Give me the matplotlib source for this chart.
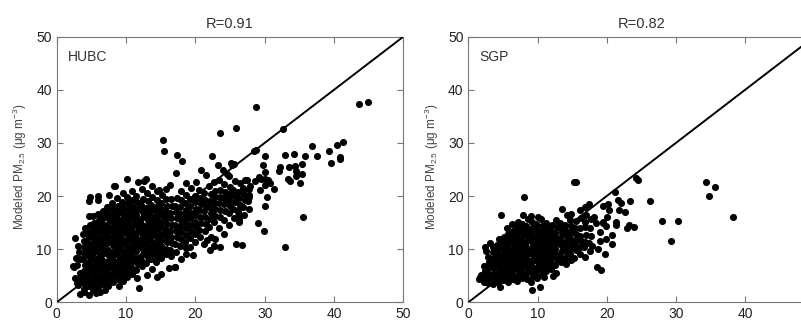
import matplotlib.pyplot as plt

hubc_obs = [
    2.5, 2.7, 2.6, 2.3, 2.8, 2.9,
    3.3, 3.1, 3.2, 3.4, 3.0, 3.3, 3.2, 3.1,
    3.9, 4.0, 3.8, 3.9, 4.1, 3.8, 4.0, 3.9, 4.0, 3.8, 4.1,
    4.6, 4.5, 4.7, 4.6, 4.5, 4.7, 4.6, 4.5, 4.7, 4.6, 4.5, 4.8, 4.7, 4.6,
    5.3, 5.2, 5.4, 5.3, 5.2, 5.4, 5.3, 5.2, 5.4, 5.3, 5.2, 5.4, 5.3, 4.8,
    6.0, 5.9, 6.1, 6.0, 5.9, 6.1, 6.0, 5.9, 6.1, 6.0, 5.9, 6.1, 6.0, 5.9, 5.9,
    6.7, 6.6, 6.8, 6.7, 6.6, 6.8, 6.7, 6.6, 6.8, 6.7, 6.6, 6.8, 6.7,
    7.4, 7.3, 7.5, 7.4, 7.3, 7.5, 7.4, 7.3, 7.5, 7.4, 7.3, 7.5, 7.4, 7.3,
    8.1, 8.0, 8.2, 8.1, 8.0, 8.2, 8.1, 8.0, 8.2, 8.1, 8.0, 8.2, 8.1, 8.0, 8.2, 8.4,
    8.8, 8.7, 8.9, 8.8, 8.7, 8.9, 8.8, 8.7, 8.9, 8.8, 8.7, 8.9, 8.8, 8.7,
    9.5, 9.4, 9.6, 9.5, 9.4, 9.6, 9.5, 9.4, 9.6, 9.5, 9.4, 9.6, 9.5, 9.4, 9.6,
    10.2, 10.1, 10.3, 10.2, 10.1, 10.3, 10.2, 10.1, 10.3, 10.2, 10.1, 10.3, 10.2, 10.1, 10.1,
    10.9, 10.8, 11.0, 10.9, 10.8, 11.0, 10.9, 10.8, 11.0, 10.9, 10.8, 11.0, 10.9, 10.8,
    11.6, 11.5, 11.7, 11.6, 11.5, 11.7, 11.6, 11.5, 11.7, 11.6, 11.5, 11.7, 11.6, 11.5, 11.7,
    11.9, 12.3, 12.2, 12.4, 12.3, 12.2, 12.4, 12.3, 12.2, 12.4, 12.3, 12.2, 12.4, 12.3,
    13.0, 12.9, 13.1, 13.0, 12.9, 13.1, 13.0, 12.9, 13.1, 13.0, 12.9, 13.1, 13.0, 12.9,
    13.7, 13.6, 13.8, 13.7, 13.6, 13.8, 13.7, 13.6, 13.8, 13.7, 13.6, 13.8, 13.7,
    14.4, 14.3, 14.5, 14.4, 14.3, 14.5, 14.4, 14.3, 14.5, 14.4, 14.3, 14.5, 14.4, 14.8,
    15.1, 15.0, 15.2, 15.1, 15.0, 15.2, 15.1, 15.0, 15.2, 15.1, 15.0, 15.2, 15.3, 15.5,
    15.8, 15.7, 15.9, 15.8, 15.7, 15.9, 15.8, 15.7, 15.9, 15.8, 15.7,
    16.5, 16.4, 16.6, 16.5, 16.4, 16.6, 16.5, 16.4, 16.6, 16.5, 16.4,
    17.0, 17.2, 17.1, 17.3, 17.2, 17.1, 17.3, 17.2, 17.1, 17.3, 17.2, 17.3,
    17.9, 17.8, 18.0, 17.9, 17.8, 18.0, 17.9, 17.8, 18.0, 17.9, 18.1,
    18.6, 18.5, 18.7, 18.6, 18.5, 18.7, 18.6, 18.5, 18.7, 18.6, 18.6,
    19.3, 19.2, 19.4, 19.3, 19.2, 19.4, 19.3, 19.2, 19.4,
    20.0, 19.9, 20.1, 20.0, 19.9, 20.1, 20.0, 19.9, 20.1,
    20.7, 20.6, 20.8, 20.7, 20.6, 20.8, 20.7, 20.6, 20.8,
    21.3, 21.7, 21.4, 21.5, 21.4, 21.3, 21.5, 21.4, 21.3, 21.5,
    22.1, 22.2, 22.0, 22.1, 22.2, 22.0, 22.1, 22.2, 22.0, 22.4,
    22.7, 22.8, 22.7, 22.9, 22.8, 22.7, 22.9, 22.8, 22.7,
    23.5, 23.4, 23.6, 23.5, 23.4, 23.6, 23.5, 23.3, 23.4, 23.5,
    24.2, 24.1, 24.3, 24.2, 24.1, 24.3, 24.0, 24.5, 24.2,
    24.9, 24.8, 25.0, 24.9, 24.8, 25.0, 25.1, 25.3, 24.9,
    25.6, 25.5, 25.7, 25.6, 25.5, 25.7, 25.8, 25.8, 25.6,
    26.3, 26.2, 26.4, 26.3, 26.2, 26.4, 26.1, 26.3, 26.1, 26.8,
    27.0, 26.9, 27.1, 27.0, 26.9, 27.1, 26.9, 27.4,
    27.7, 27.6, 27.8, 27.7, 27.9, 27.7,
    28.4, 28.7, 28.7, 30.0, 29.2, 30.1, 30.0, 30.5, 29.3, 30.4, 30.0, 29.0, 29.9, 29.8, 30.8, 31.3,
    30.0, 32.7, 32.9, 34.3, 35.8, 36.9, 37.5, 39.3, 39.5, 40.5, 41.3, 40.8, 40.9, 43.6, 44.9, 33.0,
    32.2, 33.5, 34.4, 35.4, 34.5, 35.4, 34.5, 33.4, 33.7, 35.1, 35.5, 32.0, 28.6, 29.5,
    4.0, 7.6, 12.6, 17.1, 19.6, 16.2, 22.7, 6.3, 7.0, 5.6, 9.0,
    # points packed in between the columns of the dense core
    4.25, 4.25, 4.25, 4.25,
    4.95, 4.95, 4.95, 4.95, 4.95,
    5.65, 5.65, 5.65, 5.65, 5.65,
    6.35, 6.35, 6.35, 6.35, 6.35, 6.35,
    7.05, 7.05, 7.05, 7.05, 7.05, 7.05,
    7.75, 7.75, 7.75, 7.75, 7.75, 7.75,
    8.45, 8.45, 8.45, 8.45, 8.45, 8.45,
    9.15, 9.15, 9.15, 9.15, 9.15, 9.15,
    9.85, 9.85, 9.85, 9.85, 9.85,
    10.55, 10.55, 10.55, 10.55, 10.55, 10.55,
    11.25, 11.25, 11.25, 11.25, 11.25,
    11.95, 11.95, 11.95, 11.95, 11.95,
    12.65, 12.65, 12.65, 12.65,
    13.35, 13.35, 13.35, 13.35,
    14.05, 14.05, 14.05,
]
hubc_mod = [
    6.6, 12.1, 4.5, 6.9, 8.3, 3.6,
    1.5, 3.2, 4.4, 5.6, 7.0, 8.1, 9.4, 10.6,
    2.5, 3.6, 4.8, 5.9, 7.1, 8.2, 9.3, 10.5, 11.6, 12.8, 13.9,
    1.4, 3.0, 4.1, 5.3, 6.4, 7.6, 8.7, 9.9, 11.0, 12.2, 13.3, 14.5, 16.2, 19.1,
    2.3, 3.5, 4.6, 5.8, 6.9, 8.1, 9.2, 10.4, 11.5, 12.7, 13.8, 15.0, 16.3, 19.9,
    2.9, 4.0, 5.2, 6.3, 7.5, 8.6, 9.8, 10.9, 12.1, 13.2, 14.4, 15.5, 16.7, 19.2, 20.1,
    3.4, 4.6, 5.7, 6.9, 8.0, 9.2, 10.3, 11.5, 12.6, 13.8, 14.9, 16.1, 17.2,
    3.0, 4.2, 5.3, 6.5, 7.6, 8.8, 9.9, 11.1, 12.2, 13.4, 14.5, 15.7, 16.8, 18.0,
    3.8, 4.9, 6.1, 7.2, 8.4, 9.5, 10.7, 11.8, 13.0, 14.1, 15.3, 16.4, 17.6, 18.7, 21.9, 21.9,
    4.4, 5.5, 6.7, 7.8, 9.0, 10.1, 11.3, 12.4, 13.6, 14.7, 15.9, 17.0, 18.2, 19.6,
    4.0, 5.1, 6.3, 7.4, 8.6, 9.7, 10.9, 12.0, 13.2, 14.3, 15.5, 16.6, 17.8, 18.9, 20.5,
    4.8, 5.9, 7.1, 8.2, 9.4, 10.5, 11.7, 12.8, 14.0, 15.1, 16.3, 17.4, 18.6, 19.8, 23.2,
    5.4, 6.5, 7.7, 8.8, 10.0, 11.1, 12.3, 13.4, 14.6, 15.7, 16.9, 18.0, 19.2, 21.0,
    4.6, 6.1, 7.3, 8.4, 9.6, 10.7, 11.9, 13.0, 14.2, 15.3, 16.5, 17.6, 18.8, 20.0, 22.6,
    2.6, 6.8, 7.9, 9.1, 10.2, 11.4, 12.5, 13.7, 14.8, 16.0, 17.1, 18.3, 19.5, 21.4,
    5.2, 7.4, 8.6, 9.7, 10.9, 12.0, 13.2, 14.3, 15.5, 16.6, 17.8, 19.0, 20.5, 23.3,
    6.3, 8.1, 9.2, 10.4, 11.5, 12.7, 13.8, 15.0, 16.1, 17.3, 18.4, 19.8, 21.9,
    4.8, 7.6, 8.8, 9.9, 11.1, 12.2, 13.4, 14.5, 15.7, 16.8, 18.0, 19.2, 20.9, 21.1,
    5.4, 8.3, 9.5, 10.6, 11.8, 12.9, 14.1, 15.2, 16.4, 17.5, 18.7, 20.2, 30.6, 28.4,
    9.0, 10.1, 11.3, 12.4, 13.6, 14.7, 15.9, 17.0, 18.2, 19.5, 21.3,
    8.7, 9.8, 11.2, 12.3, 13.5, 14.6, 15.8, 16.9, 18.1, 19.4, 22.1,
    6.6, 9.5, 11.0, 12.2, 13.4, 14.6, 15.8, 17.0, 18.2, 19.6, 24.3, 27.8,
    8.2, 10.6, 12.0, 13.2, 14.4, 15.5, 16.7, 17.9, 19.3, 21.0, 26.6,
    10.3, 11.4, 12.7, 13.9, 15.1, 16.2, 17.4, 18.6, 20.2, 22.4, 9.1,
    10.5, 12.1, 13.4, 14.6, 15.8, 16.9, 18.1, 19.4, 21.5,
    11.4, 12.8, 14.1, 15.2, 16.4, 17.6, 18.8, 20.1, 22.7,
    12.2, 13.6, 15.0, 16.1, 17.3, 18.5, 19.6, 21.2, 25.0,
    11.0, 11.7, 13.4, 14.8, 16.0, 17.1, 18.2, 19.3, 20.6, 23.9,
    9.9, 12.2, 14.2, 15.6, 16.8, 18.0, 19.1, 20.3, 21.8, 27.6,
    10.6, 12.0, 15.1, 16.3, 17.5, 18.7, 19.8, 21.0, 22.6,
    10.4, 14.0, 16.0, 17.4, 18.6, 19.8, 21.2, 25.8, 23.0, 31.9,
    12.8, 15.5, 17.2, 18.5, 19.6, 20.8, 25.0, 24.1, 22.3,
    14.6, 16.8, 18.1, 19.3, 20.4, 21.7, 26.3, 25.8, 23.8,
    15.9, 17.6, 18.9, 20.0, 21.1, 22.9, 32.8, 11.0, 26.0,
    15.2, 17.0, 18.4, 19.6, 20.8, 22.4, 16.1, 15.7, 17.4, 10.7,
    16.4, 18.0, 19.2, 20.3, 21.6, 23.1, 21.1, 23.0,
    17.6, 19.0, 20.2, 21.4, 21.8, 19.9,
    28.5, 28.7, 36.8, 27.6, 23.6, 24.6, 23.3, 23.0, 21.1, 19.9, 22.1, 14.9, 13.5, 25.9, 22.4, 21.4,
    18.1, 32.6, 27.7, 28.0, 27.5, 29.4, 27.5, 28.4, 26.3, 29.7, 30.2, 27.3, 27.0, 37.3, 37.8, 10.4,
    25.4, 25.5, 25.7, 26.1, 24.8, 24.1, 23.8, 23.3, 22.9, 22.4, 16.1, 24.8, 22.9, 23.3,
    1.9, 20.2, 22.9, 6.7, 8.9, 6.4, 10.6, 2.0, 2.4, 1.8, 3.0,
    5.0, 7.0, 9.3, 11.6,
    4.0, 6.2, 8.5, 10.8, 13.1,
    4.9, 7.3, 9.6, 11.9, 14.3,
    4.3, 6.6, 8.9, 11.2, 13.6, 15.9,
    5.0, 7.3, 9.6, 12.0, 14.3, 16.5,
    4.6, 6.9, 9.2, 11.5, 13.9, 16.2,
    5.3, 7.6, 9.9, 12.2, 14.6, 16.9,
    6.0, 8.3, 10.6, 12.9, 15.2, 17.6,
    6.6, 8.9, 11.2, 13.5, 15.9,
    7.1, 9.4, 11.7, 14.1, 16.4, 18.1,
    7.9, 10.2, 12.5, 14.8, 17.2,
    8.6, 10.9, 13.2, 15.5, 17.8,
    9.3, 11.6, 13.9, 16.2,
    10.1, 12.4, 14.7, 17.0,
    10.6, 13.0, 15.3,
]

# SGP panel
sgp_obs = [
    1.5, 1.8, 1.7,
    2.3, 2.2, 2.4, 2.3, 2.4,
    2.9, 3.0, 2.8, 2.9, 3.0, 2.8, 3.1,
    3.6, 3.5, 3.7, 3.6, 3.5, 3.7, 3.6, 3.5,
    4.3, 4.2, 4.4, 4.3, 4.2, 4.4, 4.3, 4.2, 4.4,
    4.6, 5.0, 4.9, 5.1, 5.0, 4.9, 5.1, 5.0, 4.9, 5.1, 4.7,
    5.7, 5.6, 5.8, 5.7, 5.6, 5.8, 5.7, 5.6, 5.8, 5.7, 5.6,
    6.4, 6.3, 6.5, 6.4, 6.3, 6.5, 6.4, 6.3, 6.5, 6.4, 6.3,
    7.1, 7.0, 7.2, 7.1, 7.0, 7.2, 7.1, 7.0, 7.2, 7.1, 7.0, 7.2,
    7.8, 7.7, 7.9, 7.8, 7.7, 7.9, 7.8, 7.7, 7.9, 7.8, 7.7, 7.9, 8.05,
    8.5, 8.4, 8.6, 8.5, 8.4, 8.6, 8.5, 8.4, 8.6, 8.5, 8.4, 8.6,
    9.2, 9.1, 9.3, 9.2, 9.1, 9.3, 9.2, 9.1, 9.3, 9.2, 9.1, 9.3, 9.2, 9.1,
    9.9, 9.8, 10.0, 9.9, 9.8, 10.0, 9.9, 9.8, 10.0, 9.9, 9.8, 10.0,
    10.4, 10.6, 10.5, 10.7, 10.6, 10.5, 10.7, 10.6, 10.5, 10.7, 10.6, 10.5,
    11.3, 11.2, 11.4, 11.3, 11.2, 11.4, 11.3, 11.2, 11.4, 11.3,
    12.0, 11.9, 12.1, 12.0, 11.9, 12.1, 12.0, 11.9, 12.1,
    12.7, 12.6, 12.8, 12.7, 12.6, 12.8, 12.7, 12.6, 12.8, 12.7,
    13.4, 13.3, 13.5, 13.4, 13.3, 13.5, 13.4, 13.3, 13.5,
    14.1, 14.0, 14.2, 14.1, 14.0, 14.2, 14.1, 14.0, 14.2,
    14.8, 14.7, 14.9, 14.8, 14.7, 14.9, 14.8, 14.7, 14.9,
    15.3, 15.5, 15.4, 15.6, 15.5, 15.4, 15.6, 15.3, 15.6,
    16.2, 16.1, 16.3, 16.2, 16.1, 16.3, 16.2, 16.7,
    16.9, 16.8, 17.0, 16.9, 16.8, 17.0, 16.9,
    17.6, 17.5, 17.7, 17.6, 17.8, 17.9, 17.4,
    18.2, 18.5, 18.6, 19.2, 18.8, 19.1, 19.1, 19.5, 19.4, 19.9, 19.9, 19.8, 19.5, 20.0, 20.2, 20.3,
    20.7, 20.8, 21.2, 21.3, 21.4, 21.6, 21.8, 22.1, 22.6, 22.9, 23.2, 23.9, 23.4, 24.2, 24.5, 26.3,
    27.95, 30.3, 29.3, 34.35, 35.6, 34.8, 38.3, 2.6, 11.0, 12.3,
    # points packed in between the columns of the dense core
    3.95, 3.95, 3.95,
    4.65, 4.65, 4.65, 4.65,
    5.35, 5.35, 5.35, 5.35,
    6.05, 6.05, 6.05, 6.05,
    6.75, 6.75, 6.75, 6.75, 6.75,
    7.45, 7.45, 7.45, 7.45, 7.45,
    8.15, 8.15, 8.15, 8.15, 8.15,
    8.85, 8.85, 8.85, 8.85, 8.85,
    9.55, 9.55, 9.55, 9.55, 9.55,
    10.25, 10.25, 10.25, 10.25,
    10.95, 10.95, 10.95, 10.95,
    11.65, 11.65, 11.65,
    12.35, 12.35, 12.35,
]
sgp_mod = [
    4.4, 5.2, 4.8,
    3.9, 4.8, 5.8, 6.9, 10.4,
    3.7, 4.6, 5.6, 6.6, 7.6, 8.6, 11.2,
    3.5, 4.5, 5.4, 6.4, 7.4, 8.4, 9.4, 10.4,
    3.9, 4.9, 5.8, 6.8, 7.8, 8.8, 9.8, 10.8, 12.0,
    2.8, 4.2, 5.2, 6.2, 7.2, 8.2, 9.2, 10.2, 11.2, 12.3, 16.5,
    3.8, 4.7, 5.7, 6.7, 7.7, 8.7, 9.7, 10.7, 11.7, 12.8, 14.0,
    4.4, 5.3, 6.3, 7.3, 8.3, 9.3, 10.3, 11.3, 12.3, 13.4, 14.8,
    4.0, 5.0, 6.0, 7.0, 8.0, 9.0, 10.0, 11.0, 12.0, 13.0, 14.2, 15.2,
    4.6, 5.6, 6.6, 7.6, 8.6, 9.6, 10.6, 11.6, 12.6, 13.6, 14.8, 16.4, 19.8,
    4.3, 5.3, 6.3, 7.3, 8.3, 9.3, 10.3, 11.3, 12.3, 13.3, 14.4, 15.6,
    2.3, 3.8, 5.0, 6.0, 7.0, 8.0, 9.0, 10.0, 11.0, 12.0, 13.0, 14.0, 15.1, 16.2,
    4.6, 5.7, 6.7, 7.7, 8.7, 9.7, 10.7, 11.7, 12.7, 13.7, 14.8, 16.0,
    2.9, 5.2, 6.3, 7.3, 8.3, 9.3, 10.3, 11.3, 12.3, 13.3, 14.4, 15.6,
    5.8, 6.9, 7.9, 8.9, 9.9, 10.9, 11.9, 12.9, 13.9, 15.0,
    6.2, 7.4, 8.5, 9.5, 10.5, 11.5, 12.5, 13.5, 14.6,
    5.6, 7.0, 8.1, 9.1, 10.1, 11.1, 12.1, 13.1, 14.2, 15.4,
    7.5, 8.7, 9.7, 10.7, 11.7, 12.7, 13.8, 14.9, 17.5,
    7.2, 8.4, 9.4, 10.4, 11.4, 12.4, 13.5, 14.6, 16.4,
    8.0, 9.1, 10.1, 11.1, 12.1, 13.2, 14.3, 15.5, 16.7,
    8.3, 9.8, 10.8, 11.8, 12.9, 14.0, 15.3, 22.7, 22.7,
    9.0, 10.4, 11.6, 12.4, 13.9, 15.8, 17.3, 10.4,
    8.6, 11.4, 12.6, 14.2, 15.1, 16.5, 18.0,
    9.6, 11.2, 12.5, 13.9, 15.6, 10.6, 18.5,
    16.0, 14.9, 6.7, 6.0, 10.0, 11.6, 13.3, 14.9, 15.2, 14.3, 11.9, 9.1, 18.1, 16.0, 18.5, 17.4,
    10.9, 12.7, 20.8, 14.5, 15.2, 19.3, 17.3, 18.6, 17.0, 13.9, 14.6, 14.1, 19.1, 23.35, 23.0, 19.0,
    15.25, 15.25, 11.55, 22.65, 21.65, 20.0, 16.1, 9.6, 4.8, 5.0,
    5.0, 7.0, 9.0,
    4.6, 6.6, 8.6, 10.6,
    5.0, 7.0, 9.0, 11.0,
    5.5, 7.5, 9.5, 11.5,
    4.8, 6.8, 8.8, 10.8, 12.8,
    5.6, 7.6, 9.6, 11.6, 13.6,
    5.0, 7.0, 9.0, 11.0, 13.0,
    5.8, 7.8, 9.8, 11.8, 13.8,
    6.4, 8.4, 10.4, 12.4, 14.4,
    6.8, 8.8, 10.8, 12.8,
    7.4, 9.4, 11.4, 13.4,
    8.0, 10.0, 12.0,
    8.8, 10.8, 12.8,
]

titles = ['R=0.91', 'R=0.82']
sites = ['HUBC', 'SGP']
ticks = [0, 10, 20, 30, 40, 50]
ticks_sgp_x = [0, 10, 20, 30, 40]   # 50 falls off the cropped figure

plt.rcParams['font.family'] = ['Liberation Sans', 'DejaVu Sans']

fig = plt.figure(figsize=(8.01, 3.23), dpi=100)
ax1 = fig.add_axes([56.7 / 801, 20.7 / 323, 346.6 / 801, 265.6 / 323])
ax2 = fig.add_axes([468.3 / 801, 20.7 / 323, 346.0 / 801, 265.6 / 323])

data = [(hubc_obs, hubc_mod), (sgp_obs, sgp_mod)]
for i, ax in enumerate([ax1, ax2]):
    xs, ys = data[i]
    ax.plot([0, 50], [0, 50], color='k', lw=1.4, zorder=3)
    ax.scatter(xs, ys, s=26, c='k', linewidths=0, zorder=2)
    ax.set_xlim(0, 50)
    ax.set_ylim(0, 50)
    ax.set_xticks(ticks if i == 0 else ticks_sgp_x)
    ax.set_yticks(ticks)
    ax.tick_params(direction='in', top=True, right=True, length=4, width=0.8,
                   color='#777777', labelsize=10, labelcolor='#222222')
    for sp in ax.spines.values():
        sp.set_color('#777777')
        sp.set_linewidth(0.8)
    ax.set_title(titles[i], fontsize=10.5, color='#333333', pad=6)
    ax.text(1.6, 46.2, sites[i], fontsize=10, color='#333333', va='center')
    ax.set_ylabel('Modeled PM$_{\\mathregular{2.5}}$ (\u03bcg m$^{\\mathregular{-3}}$)',
                  fontsize=8.5, color='#444444', va='center')
    ax.yaxis.set_label_coords(-0.105, 0.51)

fig.savefig('out.png', dpi=100)
